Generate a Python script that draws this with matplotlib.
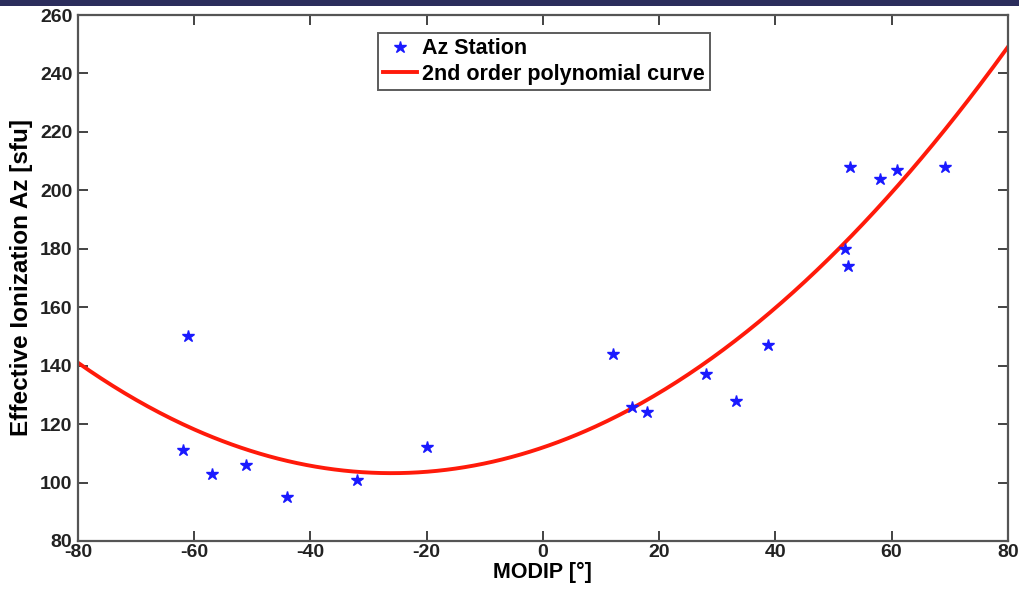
import numpy as np
import matplotlib
matplotlib.use('Agg')
import matplotlib.pyplot as plt
import matplotlib.patches as mpatches

# station points
modip = [-62, -61, -57, -51, -44, -32, -20, 12, 15.3, 18, 28, 33.2, 38.7,
         52, 52.5, 52.8, 58, 61, 69.2]
az = [111, 150, 103, 106, 95, 101, 112, 144, 126, 124, 137, 128, 147,
      180, 174, 208, 204, 207, 208]

# 2nd order fit coefficients (a, b, c), estimated from the drawn curve
poly_coef = [0.01297, 0.675, 112.0]

xlim = (-80, 80)
ylim = (80, 260)
xticks = list(range(-80, 81, 20))
yticks = list(range(80, 261, 20))

plt.rcParams['font.family'] = ['Liberation Sans', 'DejaVu Sans']
plt.rcParams['font.weight'] = 'bold'
plt.rcParams['axes.unicode_minus'] = False

fig = plt.figure(figsize=(10.19, 5.93), dpi=100)
ax = fig.add_axes([0.0765, 0.0877, 0.9125, 0.887])

# dark strip along the top edge of the original image
fig.patches.append(mpatches.Rectangle((0, 0.990), 1, 0.010, transform=fig.transFigure,
                                      facecolor='#2b2d5c', edgecolor='none', zorder=0))

xs = np.linspace(xlim[0], xlim[1], 400)
ys = np.polyval(poly_coef, xs)

ax.plot(modip, az, '*', color='#1a1aff', markersize=9, label='Az Station', zorder=3)
ax.plot(xs, ys, color='#ff1a0a', lw=2.8, label='2nd order polynomial curve', zorder=2)

ax.set_xlim(*xlim)
ax.set_ylim(*ylim)
ax.set_xticks(xticks)
ax.set_yticks(yticks)
ax.tick_params(direction='in', top=True, right=True, length=7, width=1.2,
               labelsize=14, colors='#222222')
ax.tick_params(axis='x', pad=2)
ax.tick_params(axis='y', pad=4)
for sp in ax.spines.values():
    sp.set_color('#555555')
    sp.set_linewidth(1.6)

ax.set_xlabel('MODIP [°]', fontsize=15.5, fontweight='bold', labelpad=1)
ax.set_ylabel('Effective Ionization Az [sfu]', fontsize=17.5, fontweight='bold', labelpad=5)

leg = ax.legend(loc='upper center', bbox_to_anchor=(0.501, 0.966), fontsize=15.5,
                frameon=True, fancybox=False, handlelength=1.6, handletextpad=0.2,
                borderpad=0.25, labelspacing=0.2, borderaxespad=0)
leg.get_frame().set_edgecolor('#333333')
leg.get_frame().set_linewidth(1.4)

plt.savefig('out.png', dpi=100)
